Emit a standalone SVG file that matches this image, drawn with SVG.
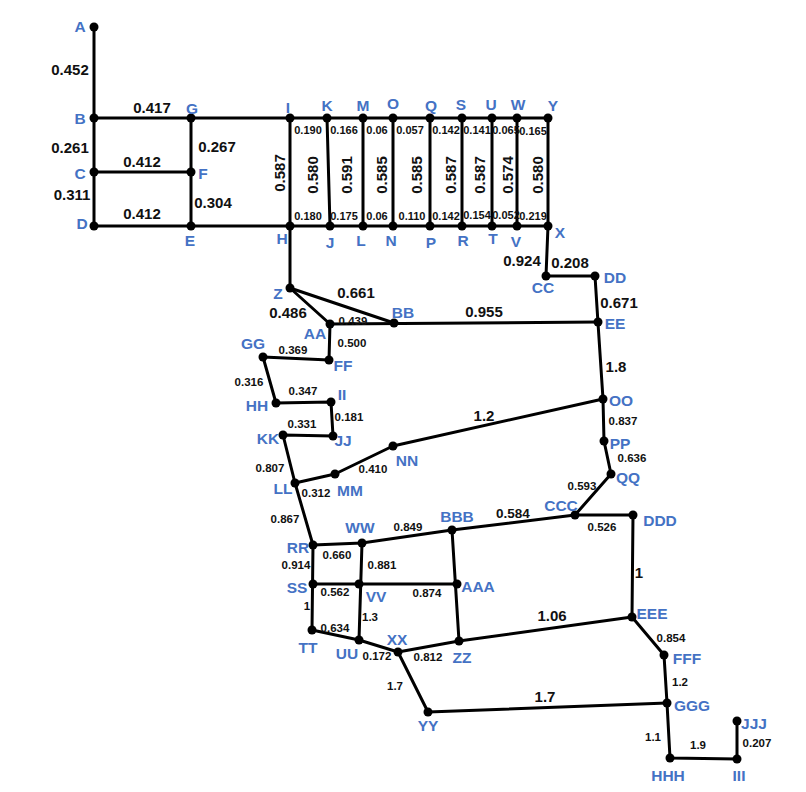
<svg xmlns="http://www.w3.org/2000/svg" width="806" height="792" viewBox="0 0 806 792">
<style>
text{font-family:"Liberation Sans",Arial,sans-serif;font-weight:bold;text-anchor:middle}
.nl{fill:#4472C4;font-size:15.5px}
.eb{fill:#111;font-size:15px}
.es{fill:#111;font-size:11.5px}
.et{fill:#111;font-size:11px}
.conn line,.conn polyline{stroke:#000;stroke-width:3;fill:none;stroke-linecap:round;stroke-linejoin:round}
circle{fill:#000}
</style>
<rect width="806" height="792" fill="#fff"/>
<g id="connectors" class="conn">
<line x1="94" y1="27" x2="94" y2="226"/>
<line x1="94" y1="118" x2="548" y2="118"/>
<line x1="94" y1="172" x2="191" y2="172"/>
<line x1="94" y1="226" x2="548" y2="226"/>
<line x1="191" y1="118" x2="191" y2="226"/>
<line x1="290" y1="118" x2="290" y2="288"/>
<line x1="327" y1="118" x2="330" y2="226"/>
<line x1="363" y1="118" x2="363" y2="226"/>
<line x1="393" y1="118" x2="393" y2="226"/>
<line x1="430" y1="118" x2="430" y2="226"/>
<line x1="462" y1="118" x2="462" y2="226"/>
<line x1="492" y1="118" x2="492" y2="226"/>
<line x1="517" y1="118" x2="517" y2="226"/>
<line x1="548" y1="118" x2="548" y2="226"/>
<polyline points="548,226 546,276 595,276 598,323 603,399 604,441 611,474 575,515 633,515 632,617 664,655 667,703 670,758 737,759 737,721"/>
<line x1="290" y1="288" x2="330" y2="324"/>
<line x1="290" y1="288" x2="394" y2="323"/>
<line x1="330" y1="324" x2="598" y2="322"/>
<polyline points="330,324 329,360 263,357 276,403 331,402 333,436 283,435 295,483 335,474 393,446 603,399"/>
<line x1="295" y1="483" x2="313" y2="545"/>
<polyline points="313,545 362,543 452,530 575,515"/>
<line x1="313" y1="545" x2="312" y2="630"/>
<line x1="362" y1="543" x2="359" y2="640"/>
<line x1="452" y1="530" x2="459" y2="641"/>
<line x1="313" y1="584" x2="457" y2="584"/>
<polyline points="312,630 359,640 398,652 459,641 632,617"/>
<polyline points="398,652 428,712 667,703"/>
</g>
<g id="edge-labels">
<text class="eb" x="70" y="75">0.452</text>
<text class="eb" x="152" y="113">0.417</text>
<text class="eb" x="70" y="153">0.261</text>
<text class="eb" x="217" y="152">0.267</text>
<text class="eb" x="142" y="167">0.412</text>
<text class="eb" x="72" y="200">0.311</text>
<text class="eb" x="213" y="208">0.304</text>
<text class="eb" x="142" y="219">0.412</text>
<text class="eb" transform="translate(285,173) rotate(-90)">0.587</text>
<text class="et" x="308" y="134">0.190</text>
<text class="et" x="344" y="134">0.166</text>
<text class="et" x="377" y="134">0.06</text>
<text class="et" x="410" y="134">0.057</text>
<text class="et" x="446" y="134">0.142</text>
<text class="et" x="477" y="134">0.141</text>
<text class="et" x="506" y="134">0.065</text>
<text class="et" x="533" y="135">0.165</text>
<text class="et" x="308" y="220">0.180</text>
<text class="et" x="344" y="220">0.175</text>
<text class="et" x="377" y="220">0.06</text>
<text class="et" x="412" y="220">0.110</text>
<text class="et" x="446" y="220">0.142</text>
<text class="et" x="477" y="219">0.154</text>
<text class="et" x="506" y="219">0.052</text>
<text class="et" x="533" y="220">0.219</text>
<text class="eb" transform="translate(318,175) rotate(-90)">0.580</text>
<text class="eb" transform="translate(352,175) rotate(-90)">0.591</text>
<text class="eb" transform="translate(387,175) rotate(-90)">0.585</text>
<text class="eb" transform="translate(422,175) rotate(-90)">0.585</text>
<text class="eb" transform="translate(456,175) rotate(-90)">0.587</text>
<text class="eb" transform="translate(485,175) rotate(-90)">0.587</text>
<text class="eb" transform="translate(513,175) rotate(-90)">0.574</text>
<text class="eb" transform="translate(543,175) rotate(-90)">0.580</text>
<text class="eb" x="522" y="266">0.924</text>
<text class="eb" x="570" y="268">0.208</text>
<text class="eb" x="619" y="308">0.671</text>
<text class="eb" x="356" y="298">0.661</text>
<text class="eb" x="288" y="318">0.486</text>
<text class="eb" x="484" y="317">0.955</text>
<text class="eb" x="616" y="372">1.8</text>
<text class="eb" x="484" y="421">1.2</text>
<text class="eb" x="513" y="518" style="font-size:13.5px">0.584</text>
<text class="eb" x="639" y="578">1</text>
<text class="eb" x="552" y="621">1.06</text>
<text class="eb" x="545" y="702">1.7</text>
<text class="es" x="353" y="325">0.439</text>
<text class="es" x="352" y="347">0.500</text>
<text class="es" x="293" y="354">0.369</text>
<text class="es" x="249" y="386">0.316</text>
<text class="es" x="303" y="395">0.347</text>
<text class="es" x="349" y="421">0.181</text>
<text class="es" x="302" y="428">0.331</text>
<text class="es" x="270" y="472">0.807</text>
<text class="es" x="373" y="473">0.410</text>
<text class="es" x="316" y="497">0.312</text>
<text class="es" x="623" y="425">0.837</text>
<text class="es" x="632" y="462">0.636</text>
<text class="es" x="582" y="490">0.593</text>
<text class="es" x="602" y="531">0.526</text>
<text class="es" x="285" y="523">0.867</text>
<text class="es" x="408" y="531">0.849</text>
<text class="es" x="337" y="559">0.660</text>
<text class="es" x="382" y="569">0.881</text>
<text class="es" x="296" y="569">0.914</text>
<text class="es" x="335" y="596">0.562</text>
<text class="es" x="427" y="597">0.874</text>
<text class="es" x="307" y="610">1</text>
<text class="es" x="370" y="621">1.3</text>
<text class="es" x="335" y="632">0.634</text>
<text class="es" x="377" y="660">0.172</text>
<text class="es" x="428" y="661">0.812</text>
<text class="es" x="671" y="642">0.854</text>
<text class="es" x="680" y="686">1.2</text>
<text class="es" x="395" y="690">1.7</text>
<text class="es" x="653" y="741">1.1</text>
<text class="es" x="698" y="749">1.9</text>
<text class="es" x="757" y="747">0.207</text>
</g>
<g id="node-A"><circle cx="94" cy="27" r="4.5"/><text class="nl" x="80" y="32">A</text></g>
<g id="node-B"><circle cx="94" cy="118" r="4.5"/><text class="nl" x="80" y="124">B</text></g>
<g id="node-C"><circle cx="94" cy="172" r="4.5"/><text class="nl" x="80" y="179">C</text></g>
<g id="node-D"><circle cx="94" cy="226" r="4.5"/><text class="nl" x="82" y="229">D</text></g>
<g id="node-G"><circle cx="191" cy="118" r="4.5"/><text class="nl" x="192" y="114">G</text></g>
<g id="node-F"><circle cx="191" cy="172" r="4.5"/><text class="nl" x="203" y="179">F</text></g>
<g id="node-E"><circle cx="191" cy="226" r="4.5"/><text class="nl" x="190" y="246">E</text></g>
<g id="node-I"><circle cx="290" cy="118" r="4.5"/><text class="nl" x="288" y="113">I</text></g>
<g id="node-H"><circle cx="290" cy="226" r="4.5"/><text class="nl" x="282" y="244">H</text></g>
<g id="node-K"><circle cx="327" cy="118" r="4.5"/><text class="nl" x="327" y="111">K</text></g>
<g id="node-M"><circle cx="363" cy="118" r="4.5"/><text class="nl" x="363" y="111">M</text></g>
<g id="node-O"><circle cx="393" cy="118" r="4.5"/><text class="nl" x="393" y="109">O</text></g>
<g id="node-Q"><circle cx="430" cy="118" r="4.5"/><text class="nl" x="431" y="111">Q</text></g>
<g id="node-S"><circle cx="462" cy="118" r="4.5"/><text class="nl" x="461" y="110">S</text></g>
<g id="node-U"><circle cx="492" cy="118" r="4.5"/><text class="nl" x="491" y="110">U</text></g>
<g id="node-W"><circle cx="517" cy="118" r="4.5"/><text class="nl" x="518" y="110">W</text></g>
<g id="node-Y"><circle cx="548" cy="118" r="4.5"/><text class="nl" x="553" y="111">Y</text></g>
<g id="node-J"><circle cx="330" cy="226" r="4.5"/><text class="nl" x="330" y="248">J</text></g>
<g id="node-L"><circle cx="363" cy="226" r="4.5"/><text class="nl" x="361" y="246">L</text></g>
<g id="node-N"><circle cx="393" cy="226" r="4.5"/><text class="nl" x="391" y="246">N</text></g>
<g id="node-P"><circle cx="430" cy="226" r="4.5"/><text class="nl" x="431" y="248">P</text></g>
<g id="node-R"><circle cx="462" cy="226" r="4.5"/><text class="nl" x="463" y="246">R</text></g>
<g id="node-T"><circle cx="492" cy="226" r="4.5"/><text class="nl" x="493" y="244">T</text></g>
<g id="node-V"><circle cx="517" cy="226" r="4.5"/><text class="nl" x="516" y="247">V</text></g>
<g id="node-X"><circle cx="548" cy="226" r="4.5"/><text class="nl" x="560" y="238">X</text></g>
<g id="node-CC"><circle cx="546" cy="276" r="4.5"/><text class="nl" x="543" y="293">CC</text></g>
<g id="node-DD"><circle cx="595" cy="276" r="4.5"/><text class="nl" x="615" y="283">DD</text></g>
<g id="node-EE"><circle cx="598" cy="322" r="4.5"/><text class="nl" x="615" y="329">EE</text></g>
<g id="node-Z"><circle cx="290" cy="288" r="4.5"/><text class="nl" x="278" y="299">Z</text></g>
<g id="node-AA"><circle cx="330" cy="324" r="4.5"/><text class="nl" x="315" y="339">AA</text></g>
<g id="node-BB"><circle cx="394" cy="323" r="4.5"/><text class="nl" x="403" y="318">BB</text></g>
<g id="node-FF"><circle cx="329" cy="360" r="4.5"/><text class="nl" x="343" y="371">FF</text></g>
<g id="node-GG"><circle cx="263" cy="357" r="4.5"/><text class="nl" x="253" y="349">GG</text></g>
<g id="node-HH"><circle cx="276" cy="403" r="4.5"/><text class="nl" x="257" y="411">HH</text></g>
<g id="node-II"><circle cx="331" cy="402" r="4.5"/><text class="nl" x="342" y="400">II</text></g>
<g id="node-JJ"><circle cx="333" cy="436" r="4.5"/><text class="nl" x="343" y="446">JJ</text></g>
<g id="node-KK"><circle cx="283" cy="435" r="4.5"/><text class="nl" x="268" y="444">KK</text></g>
<g id="node-LL"><circle cx="295" cy="483" r="4.5"/><text class="nl" x="283" y="494">LL</text></g>
<g id="node-MM"><circle cx="335" cy="474" r="4.5"/><text class="nl" x="350" y="496">MM</text></g>
<g id="node-NN"><circle cx="393" cy="446" r="4.5"/><text class="nl" x="407" y="466">NN</text></g>
<g id="node-OO"><circle cx="603" cy="399" r="4.5"/><text class="nl" x="621" y="406">OO</text></g>
<g id="node-PP"><circle cx="604" cy="441" r="4.5"/><text class="nl" x="620" y="449">PP</text></g>
<g id="node-QQ"><circle cx="611" cy="474" r="4.5"/><text class="nl" x="628" y="483">QQ</text></g>
<g id="node-CCC"><circle cx="575" cy="515" r="4.5"/><text class="nl" x="561" y="511">CCC</text></g>
<g id="node-DDD"><circle cx="633" cy="515" r="4.5"/><text class="nl" x="660" y="526">DDD</text></g>
<g id="node-RR"><circle cx="313" cy="545" r="4.5"/><text class="nl" x="298" y="553">RR</text></g>
<g id="node-WW"><circle cx="362" cy="543" r="4.5"/><text class="nl" x="360" y="533">WW</text></g>
<g id="node-BBB"><circle cx="452" cy="530" r="4.5"/><text class="nl" x="457" y="522">BBB</text></g>
<g id="node-SS"><circle cx="313" cy="584" r="4.5"/><text class="nl" x="297" y="593">SS</text></g>
<g id="node-VV"><circle cx="359" cy="584" r="4.5"/><text class="nl" x="376" y="602">VV</text></g>
<g id="node-AAA"><circle cx="457" cy="584" r="4.5"/><text class="nl" x="478" y="592">AAA</text></g>
<g id="node-TT"><circle cx="312" cy="630" r="4.5"/><text class="nl" x="308" y="653">TT</text></g>
<g id="node-UU"><circle cx="359" cy="640" r="4.5"/><text class="nl" x="347" y="659">UU</text></g>
<g id="node-XX"><circle cx="398" cy="652" r="4.5"/><text class="nl" x="397" y="645">XX</text></g>
<g id="node-ZZ"><circle cx="459" cy="641" r="4.5"/><text class="nl" x="462" y="663">ZZ</text></g>
<g id="node-EEE"><circle cx="632" cy="617" r="4.5"/><text class="nl" x="652" y="619">EEE</text></g>
<g id="node-FFF"><circle cx="664" cy="655" r="4.5"/><text class="nl" x="687" y="664">FFF</text></g>
<g id="node-GGG"><circle cx="667" cy="703" r="4.5"/><text class="nl" x="692" y="711">GGG</text></g>
<g id="node-YY"><circle cx="428" cy="712" r="4.5"/><text class="nl" x="428" y="731">YY</text></g>
<g id="node-HHH"><circle cx="670" cy="758" r="4.5"/><text class="nl" x="668" y="781">HHH</text></g>
<g id="node-III"><circle cx="737" cy="759" r="4.5"/><text class="nl" x="739" y="781">III</text></g>
<g id="node-JJJ"><circle cx="737" cy="721" r="4.5"/><text class="nl" x="754" y="729">JJJ</text></g>
</svg>
